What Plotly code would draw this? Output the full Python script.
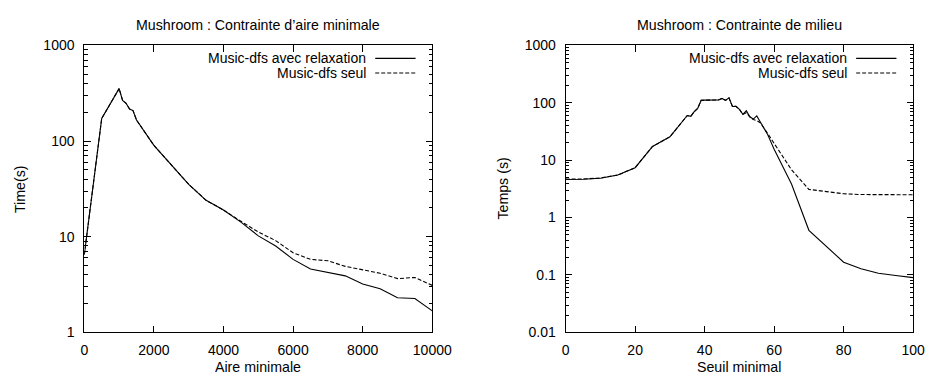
import plotly.graph_objects as go

# ---------------- data ----------------
aire_x = [0, 500, 1000, 1100, 1200, 1300, 1400, 1500, 2000, 2500, 3000, 3500,
          4000, 4500, 5000, 5500, 6000, 6500, 7000, 7500, 8000, 8500, 9000, 9500, 10000]
aire_relax = [6.5, 172, 353, 266, 248, 216, 208, 166, 90, 57, 35.3, 24,
              19, 14.2, 10.2, 8.0, 5.8, 4.6, 4.25, 3.9, 3.2, 2.86, 2.3, 2.26, 1.68]
aire_seul = [6.5, 172, 353, 266, 248, 216, 208, 166, 90, 57, 35.3, 24,
             19, 14.5, 11.2, 9.1, 6.8, 5.8, 5.6, 4.9, 4.5, 4.15, 3.65, 3.75, 3.1]

seuil_x = [0, 5, 10, 15, 20, 25, 30, 35, 36, 37, 38, 39, 40, 41, 42, 43, 44, 45,
           46, 47, 48, 49, 50, 51, 52, 53, 54, 55, 56, 58, 60, 65, 70, 75, 80,
           85, 90, 95, 100]
seuil_relax = [4.6, 4.65, 4.85, 5.5, 7.4, 17.3, 25.5, 60, 58, 70, 80, 110, 111,
               111, 112, 113, 112, 119, 110, 122, 86, 87, 77, 63, 73, 57, 52, 59,
               46, 29, 15.5, 3.85, 0.6, 0.32, 0.167, 0.128, 0.107, 0.098, 0.09]
seuil_seul = [4.7, 4.7, 4.9, 5.5, 7.4, 17.3, 25.5, 60, 58, 70, 80, 110, 111,
              111, 112, 113, 112, 119, 110, 122, 86, 87, 77, 63, 67, 57, 51, 49,
              45, 30, 19.7, 6.8, 3.1, 2.85, 2.6, 2.52, 2.5, 2.5, 2.5]

aire_xticks = [0, 2000, 4000, 6000, 8000, 10000]
aire_xtext = ["0", "2000", "4000", "6000", "8000", "10000"]
seuil_xticks = [0, 20, 40, 60, 80, 100]
seuil_xtext = ["0", "20", "40", "60", "80", "100"]
left_yticks = [1, 10, 100, 1000]
left_ytext = ["1", "10", "100", "1000"]
right_yticks = [0.01, 0.1, 1, 10, 100, 1000]
right_ytext = ["0.01", "0.1", "1", "10", "100", "1000"]
minor_mult = [2, 3, 4, 5, 6, 7, 8, 9]

titles = ["Mushroom : Contrainte d\u2019aire minimale", "Mushroom : Contrainte de milieu"]
xtitles = ["Aire minimale", "Seuil minimal"]
ytitles = ["Time(s)", "Temps (s)"]
legend_names = ["Music-dfs avec relaxation", "Music-dfs seul"]

FONT = "Liberation Sans, Arial, sans-serif"
FS = 14.2
W, H = 949, 392
S = 933 / 949   # photo scale (uniform)


def px_x(p):  # target-picture pixel -> paper fraction
    return (p / S) / W


def px_y(p):
    return 1 - (p / S) / H


fig = go.Figure()
line_solid = dict(color="black", width=1.1)
line_dash = dict(color="black", width=1.1, dash="4px,2px")

fig.add_trace(go.Scatter(x=aire_x, y=aire_seul, mode="lines", line=line_dash,
                         xaxis="x", yaxis="y", showlegend=False, name=legend_names[1]))
fig.add_trace(go.Scatter(x=aire_x, y=aire_relax, mode="lines", line=line_solid,
                         xaxis="x", yaxis="y", showlegend=False, name=legend_names[0]))
fig.add_trace(go.Scatter(x=seuil_x, y=seuil_seul, mode="lines", line=line_dash,
                         xaxis="x2", yaxis="y2", showlegend=False, name=legend_names[1]))
fig.add_trace(go.Scatter(x=seuil_x, y=seuil_relax, mode="lines", line=line_solid,
                         xaxis="x2", yaxis="y2", showlegend=False, name=legend_names[0]))

ax_common = dict(showline=True, linecolor="black", linewidth=1, mirror="ticks",
                 ticks="inside", ticklen=6.5, tickcolor="black", tickwidth=1,
                 showgrid=False, zeroline=False,
                 tickfont=dict(family=FONT, size=14, color="black"))


def minor_ticks(lo, hi):
    vals = []
    for e in range(lo, hi):
        vals += [m * 10.0 ** e for m in minor_mult]
    return dict(ticks="inside", ticklen=3.5, tickcolor="black", tickmode="array",
                tickvals=vals, showgrid=False)


ydom = [px_y(332.5), px_y(38.3)]
xdom1 = [px_x(81), px_x(432)]
xdom2 = [px_x(566.5), px_x(917)]
plot_h = (332.5 - 38.3)


def dom_y(p):  # target pixel -> fraction of plot height
    return 1 - (p - 38.3) / plot_h


fig.update_layout(
    width=W, height=H,
    margin=dict(l=0, r=0, t=0, b=0),
    paper_bgcolor="white", plot_bgcolor="white",
    font=dict(family=FONT, size=FS, color="black"),
    xaxis=dict(domain=xdom1, range=[0, 10000], tickmode="array", tickvals=aire_xticks,
               ticktext=aire_xtext, ticklabelstandoff=5, anchor="y", **ax_common),
    yaxis=dict(domain=ydom, type="log", range=[0, 3], tickmode="array",
               tickvals=left_yticks, ticktext=left_ytext, minor=minor_ticks(0, 3),
               ticklabelstandoff=6, anchor="x", **ax_common),
    xaxis2=dict(domain=xdom2, range=[0, 100], tickmode="array", tickvals=seuil_xticks,
                ticktext=seuil_xtext, ticklabelstandoff=5, anchor="y2", **ax_common),
    yaxis2=dict(domain=ydom, type="log", range=[-2, 3], tickmode="array",
                tickvals=right_yticks, ticktext=right_ytext, minor=minor_ticks(-2, 3),
                ticklabelstandoff=6, anchor="x2", **ax_common),
)

txt_font = dict(family=FONT, size=FS, color="black")
key_font = dict(family=FONT, size=14, color="black")
annotations = []
shapes = []
ytitle_x = [16.3, 503]
for i, (xr, yr) in enumerate([("x domain", "y domain"), ("x2 domain", "y2 domain")]):
    # panel title
    annotations.append(dict(text=titles[i], xref=xr, yref="paper", x=0.5,
                            y=px_y(17), showarrow=False, xanchor="center",
                            yanchor="middle", font=txt_font))
    # x-axis title
    annotations.append(dict(text=xtitles[i], xref=xr, yref="paper", x=0.5,
                            y=px_y(367.5), showarrow=False, xanchor="center",
                            yanchor="middle", borderpad=0, height=14, valign="middle",
                            font=txt_font))
    # y-axis title
    annotations.append(dict(text=ytitles[i], xref="paper", yref=yr, x=px_x(ytitle_x[i]),
                            y=0.5, textangle=-90, showarrow=False, xanchor="center",
                            yanchor="middle", font=txt_font))
    # key
    for j, ypx in enumerate([51.6, 66.6]):
        ypos = dom_y(ypx)
        annotations.append(dict(text=legend_names[j], xref=xr, yref=yr, x=0.812, y=ypos,
                                showarrow=False, xanchor="right", yanchor="middle",
                                borderpad=0, font=key_font))
        shapes.append(dict(type="line", xref=xr, yref=yr, x0=0.836, x1=0.952,
                           y0=ypos, y1=ypos,
                           line=line_solid if j == 0 else line_dash))
fig.update_layout(annotations=annotations, shapes=shapes)

fig.write_html(
    "out.html",
    config={"displayModeBar": False},
    post_script="document.body.style.margin='0px';document.body.style.overflow='hidden';",
)
